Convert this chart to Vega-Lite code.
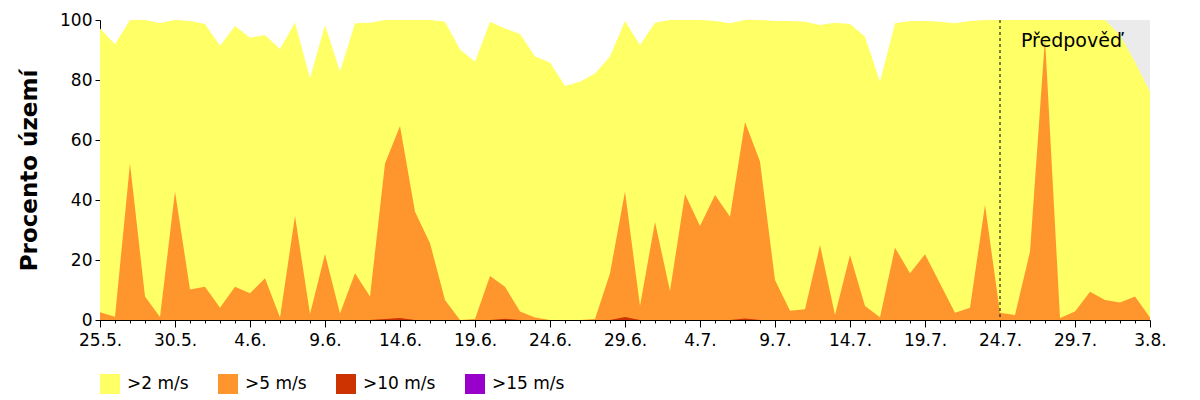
{
  "$schema": "https://vega.github.io/schema/vega-lite/v6.json",
  "width": 1050,
  "height": 300,
  "autosize": "none",
  "padding": {"left": 100, "top": 20, "right": 50, "bottom": 80},
  "background": "white",
  "config": {
    "view": {"stroke": null},
    "font": "DejaVu Sans",
    "axis": {"labelFont": "DejaVu Sans", "titleFont": "DejaVu Sans", "labelColor": "black", "titleColor": "black", "domainColor": "black", "tickColor": "black", "grid": false}
  },
  "datasets": {
    "wind": [
      {"date": "2024-05-25", "v2": 97.2, "v5": 2.6, "v10": 0, "v15": 0},
      {"date": "2024-05-26", "v2": 91.9, "v5": 1.1, "v10": 0, "v15": 0},
      {"date": "2024-05-27", "v2": 100, "v5": 52.2, "v10": 0, "v15": 0},
      {"date": "2024-05-28", "v2": 100, "v5": 7.8, "v10": 0, "v15": 0},
      {"date": "2024-05-29", "v2": 99, "v5": 1.0, "v10": 0, "v15": 0},
      {"date": "2024-05-30", "v2": 100, "v5": 42.8, "v10": 0, "v15": 0},
      {"date": "2024-05-31", "v2": 99.7, "v5": 10.2, "v10": 0, "v15": 0},
      {"date": "2024-06-01", "v2": 98.7, "v5": 11.1, "v10": 0, "v15": 0},
      {"date": "2024-06-02", "v2": 91.4, "v5": 4.1, "v10": 0, "v15": 0},
      {"date": "2024-06-03", "v2": 98, "v5": 11.1, "v10": 0, "v15": 0},
      {"date": "2024-06-04", "v2": 94.1, "v5": 8.9, "v10": 0, "v15": 0},
      {"date": "2024-06-05", "v2": 95, "v5": 13.9, "v10": 0, "v15": 0},
      {"date": "2024-06-06", "v2": 90.3, "v5": 0.8, "v10": 0, "v15": 0},
      {"date": "2024-06-07", "v2": 99.2, "v5": 34.7, "v10": 0, "v15": 0},
      {"date": "2024-06-08", "v2": 80.6, "v5": 2, "v10": 0, "v15": 0},
      {"date": "2024-06-09", "v2": 98.3, "v5": 22, "v10": 0, "v15": 0},
      {"date": "2024-06-10", "v2": 82.8, "v5": 2.2, "v10": 0, "v15": 0},
      {"date": "2024-06-11", "v2": 98.9, "v5": 15.6, "v10": 0, "v15": 0},
      {"date": "2024-06-12", "v2": 99.1, "v5": 7.8, "v10": 0, "v15": 0},
      {"date": "2024-06-13", "v2": 100, "v5": 52.2, "v10": 0.3, "v15": 0},
      {"date": "2024-06-14", "v2": 100, "v5": 64.7, "v10": 0.7, "v15": 0},
      {"date": "2024-06-15", "v2": 100, "v5": 36.1, "v10": 0, "v15": 0},
      {"date": "2024-06-16", "v2": 100, "v5": 25.6, "v10": 0, "v15": 0},
      {"date": "2024-06-17", "v2": 99.4, "v5": 6.7, "v10": 0, "v15": 0},
      {"date": "2024-06-18", "v2": 90.2, "v5": 0, "v10": 0, "v15": 0},
      {"date": "2024-06-19", "v2": 86.1, "v5": 0.3, "v10": 0, "v15": 0},
      {"date": "2024-06-20", "v2": 99.4, "v5": 14.7, "v10": 0, "v15": 0},
      {"date": "2024-06-21", "v2": 97.2, "v5": 11.1, "v10": 0.4, "v15": 0},
      {"date": "2024-06-22", "v2": 95.3, "v5": 2.8, "v10": 0, "v15": 0},
      {"date": "2024-06-23", "v2": 87.8, "v5": 0.8, "v10": 0, "v15": 0},
      {"date": "2024-06-24", "v2": 85.8, "v5": 0, "v10": 0, "v15": 0},
      {"date": "2024-06-25", "v2": 78, "v5": 0, "v10": 0, "v15": 0},
      {"date": "2024-06-26", "v2": 79.4, "v5": 0, "v10": 0, "v15": 0},
      {"date": "2024-06-27", "v2": 82.2, "v5": 0.3, "v10": 0, "v15": 0},
      {"date": "2024-06-28", "v2": 87.8, "v5": 15.6, "v10": 0, "v15": 0},
      {"date": "2024-06-29", "v2": 99.7, "v5": 42.8, "v10": 1.0, "v15": 0},
      {"date": "2024-06-30", "v2": 91.7, "v5": 4.7, "v10": 0, "v15": 0},
      {"date": "2024-07-01", "v2": 99.1, "v5": 32.7, "v10": 0, "v15": 0},
      {"date": "2024-07-02", "v2": 100, "v5": 9.7, "v10": 0, "v15": 0},
      {"date": "2024-07-03", "v2": 100, "v5": 42, "v10": 0, "v15": 0},
      {"date": "2024-07-04", "v2": 100, "v5": 31.3, "v10": 0, "v15": 0},
      {"date": "2024-07-05", "v2": 99.7, "v5": 41.7, "v10": 0, "v15": 0},
      {"date": "2024-07-06", "v2": 98.9, "v5": 34.4, "v10": 0, "v15": 0},
      {"date": "2024-07-07", "v2": 100, "v5": 66, "v10": 0.5, "v15": 0},
      {"date": "2024-07-08", "v2": 100, "v5": 52.8, "v10": 0, "v15": 0},
      {"date": "2024-07-09", "v2": 99.7, "v5": 13.3, "v10": 0, "v15": 0},
      {"date": "2024-07-10", "v2": 99.7, "v5": 3.1, "v10": 0, "v15": 0},
      {"date": "2024-07-11", "v2": 99.4, "v5": 3.6, "v10": 0, "v15": 0},
      {"date": "2024-07-12", "v2": 98.3, "v5": 25, "v10": 0, "v15": 0},
      {"date": "2024-07-13", "v2": 99.1, "v5": 1.7, "v10": 0, "v15": 0},
      {"date": "2024-07-14", "v2": 98.7, "v5": 21.7, "v10": 0, "v15": 0},
      {"date": "2024-07-15", "v2": 94.4, "v5": 4.7, "v10": 0, "v15": 0},
      {"date": "2024-07-16", "v2": 79.4, "v5": 0.9, "v10": 0, "v15": 0},
      {"date": "2024-07-17", "v2": 98.9, "v5": 24.1, "v10": 0, "v15": 0},
      {"date": "2024-07-18", "v2": 99.7, "v5": 15.6, "v10": 0, "v15": 0},
      {"date": "2024-07-19", "v2": 99.7, "v5": 21.9, "v10": 0, "v15": 0},
      {"date": "2024-07-20", "v2": 99.4, "v5": 12.2, "v10": 0, "v15": 0},
      {"date": "2024-07-21", "v2": 98.9, "v5": 2.4, "v10": 0, "v15": 0},
      {"date": "2024-07-22", "v2": 99.7, "v5": 4.1, "v10": 0, "v15": 0},
      {"date": "2024-07-23", "v2": 100, "v5": 38.3, "v10": 0, "v15": 0},
      {"date": "2024-07-24", "v2": 100, "v5": 2.4, "v10": 0, "v15": 0},
      {"date": "2024-07-25", "v2": 100, "v5": 1.7, "v10": 0, "v15": 0},
      {"date": "2024-07-26", "v2": 100, "v5": 22.8, "v10": 0, "v15": 0},
      {"date": "2024-07-27", "v2": 100, "v5": 94, "v10": 0, "v15": 0},
      {"date": "2024-07-28", "v2": 100, "v5": 0.7, "v10": 0, "v15": 0},
      {"date": "2024-07-29", "v2": 100, "v5": 2.8, "v10": 0, "v15": 0},
      {"date": "2024-07-30", "v2": 100, "v5": 9.4, "v10": 0, "v15": 0},
      {"date": "2024-07-31", "v2": 100, "v5": 6.7, "v10": 0, "v15": 0},
      {"date": "2024-08-01", "v2": 95, "v5": 5.8, "v10": 0, "v15": 0},
      {"date": "2024-08-02", "v2": 86, "v5": 7.8, "v10": 0, "v15": 0},
      {"date": "2024-08-03", "v2": 76.1, "v5": 0.8, "v10": 0, "v15": 0}
    ],
    "forecast": [{"start": "2024-07-24", "end": "2024-08-03", "label": "Předpověď"}]
  },
  "data": {"name": "wind"},
  "encoding": {
    "x": {
      "field": "date",
      "type": "temporal",
      "scale": {"type": "utc", "domain": ["2024-05-25", "2024-08-03"], "nice": false},
      "axis": {
        "title": null,
        "tickCount": {"interval": "day", "step": 1},
        "labelExpr": "round((datum.value - utc(2024,4,25)) / 86400000) % 5 == 0 ? utcFormat(datum.value, '%-d.%-m.') : ''",
        "tickSize": {"condition": {"test": "round((datum.value - utc(2024,4,25)) / 86400000) % 5 == 0", "value": 7}, "value": 3},
        "labelFontSize": 17,
        "labelPadding": 5,
        "labelOverlap": false,
        "labelFlush": false,
        "labelBound": false
      }
    }
  },
  "layer": [
    {
      "data": {"name": "forecast"},
      "mark": {"type": "rect", "color": "#ebebeb"},
      "encoding": {
        "x": {"field": "start", "type": "temporal"},
        "x2": {"field": "end"}
      }
    },
    {
      "mark": {"type": "area", "interpolate": "linear"},
      "encoding": {
        "y": {
          "field": "v2",
          "type": "quantitative",
          "scale": {"domain": [0, 100], "nice": false},
          "axis": {"title": "Procento území", "values": [0, 20, 40, 60, 80, 100], "tickSize": 5, "labelFontSize": 17, "labelPadding": 3, "titleFontSize": 23, "titleFontWeight": "bold", "titlePadding": 18}
        },
        "color": {
          "datum": ">2 m/s",
          "type": "nominal",
          "scale": {"domain": [">2 m/s", ">5 m/s", ">10 m/s", ">15 m/s"], "range": ["#ffff66", "#ff962d", "#cc3300", "#9900cc"]},
          "legend": {
            "title": null,
            "orient": "none",
            "legendX": 0,
            "legendY": 354,
            "direction": "horizontal",
            "symbolType": "square",
            "symbolSize": 400,
            "symbolStrokeWidth": 0,
            "symbolOpacity": 1,
            "labelFontSize": 17,
            "labelFont": "DejaVu Sans",
            "labelColor": "black",
            "labelOffset": 7,
            "columnPadding": 29,
            "padding": 0
          }
        }
      }
    },
    {
      "mark": {"type": "area", "interpolate": "linear"},
      "encoding": {"y": {"field": "v5", "type": "quantitative"}, "color": {"datum": ">5 m/s", "type": "nominal"}}
    },
    {
      "mark": {"type": "area", "interpolate": "linear"},
      "encoding": {"y": {"field": "v10", "type": "quantitative"}, "color": {"datum": ">10 m/s", "type": "nominal"}}
    },
    {
      "mark": {"type": "area", "interpolate": "linear"},
      "encoding": {"y": {"field": "v15", "type": "quantitative"}, "color": {"datum": ">15 m/s", "type": "nominal"}}
    },
    {
      "data": {"name": "forecast"},
      "mark": {"type": "rule", "color": "black", "strokeDash": [3, 3], "strokeWidth": 1},
      "encoding": {"x": {"field": "start", "type": "temporal"}}
    },
    {
      "data": {"name": "forecast"},
      "mark": {"type": "text", "align": "left", "baseline": "alphabetic", "dx": 21, "fontSize": 19, "font": "DejaVu Sans", "color": "black"},
      "encoding": {
        "x": {"field": "start", "type": "temporal"},
        "y": {"datum": 91, "type": "quantitative"},
        "text": {"field": "label"}
      }
    },
    {
      "data": {"name": "forecast"},
      "mark": {"type": "rule", "color": "black", "strokeWidth": 1},
      "encoding": {"y": {"datum": 100, "type": "quantitative"}}
    }
  ]
}
